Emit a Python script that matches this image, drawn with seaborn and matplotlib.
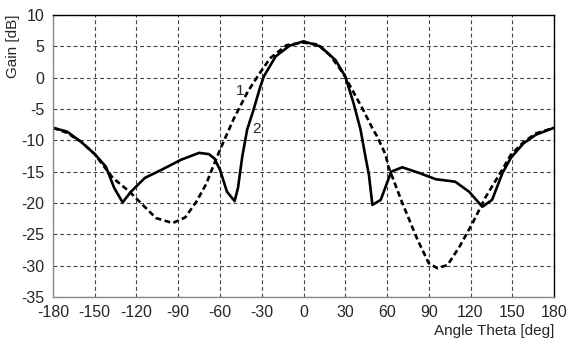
import numpy as np
import pandas as pd
import seaborn as sns
from matplotlib import pyplot as plt

# curve 1 (dashed)
theta1 = [-180, -170, -160, -150, -146, -137, -125, -106, -94, -85, -77, -70, -65, -60,
          -50, -40, -31.5, -24, -12, 0, 10, 19, 28.5, 43, 50, 53, 59, 61, 71, 82, 90,
          96, 103.5, 112, 121.5, 131, 142, 149, 158, 167, 180]
gain1 = [-8.0, -8.8, -10.2, -12.2, -13.4, -16.0, -18.2, -22.4, -23.2, -22.3, -19.8, -17.0,
         -14.2, -11.5, -6.5, -2.2, 0.7, 3.1, 5.2, 5.6, 5.3, 3.6, 0.7, -5.2, -8.3, -9.4,
         -12.3, -14.2, -20.0, -25.9, -29.6, -30.4, -29.9, -27.0, -23.2, -19.0, -15.0,
         -12.3, -10.3, -8.9, -8.0]

# curve 2 (solid)
theta2 = [-180, -170, -160, -150, -142, -136, -130, -124, -114, -102, -88, -75, -68, -64,
          -60, -55, -49.5, -47, -45.5, -44, -40.5, -36, -31, -28.5, -20, -10, 0, 12, 23,
          30, 36, 41, 44.5, 47, 49.5, 55.5, 63, 71, 83, 95, 109, 119, 128.5, 135.5, 143,
          149, 158, 167, 180]
gain2 = [-8.0, -8.6, -10.2, -12.2, -14.2, -17.6, -19.9, -18.2, -16.0, -14.7, -13.1, -12.0,
         -12.2, -12.9, -14.7, -18.2, -19.7, -17.5, -15.0, -12.6, -8.3, -5.2, -1.4, 0.2,
         3.4, 5.1, 5.8, 5.0, 2.8, 0.2, -4.1, -8.3, -12.6, -15.5, -20.3, -19.5, -15.0,
         -14.3, -15.2, -16.2, -16.6, -18.2, -20.6, -19.5, -15.2, -12.8, -10.5, -9.1, -8.0]

xticks = list(range(-180, 181, 30))
yticks = list(range(-35, 11, 5))

df1 = pd.DataFrame({'theta': theta1, 'gain': gain1})
df2 = pd.DataFrame({'theta': theta2, 'gain': gain2})

sns.set_style('white')
plt.rcParams['font.family'] = ['Liberation Sans', 'DejaVu Sans']
plt.rcParams['axes.unicode_minus'] = False

fig, ax = plt.subplots(figsize=(5.72, 3.47), dpi=100)
fig.subplots_adjust(left=53/572, right=554/572, top=1-15/347, bottom=1-297/347)

ax.grid(True, color='#444444', linestyle=(0, (3.5, 2.5)), linewidth=0.8)
ax.set_axisbelow(True)

sns.lineplot(data=df1, x='theta', y='gain', ax=ax, color='black', sort=False,
             linewidth=1.9, linestyle=(0, (2.2, 1.3)))
sns.lineplot(data=df2, x='theta', y='gain', ax=ax, color='black', sort=False,
             linewidth=1.9)

ax.set_xlim(-180, 180)
ax.set_ylim(-35, 10)
ax.set_xticks(xticks)
ax.set_yticks(yticks)
ax.tick_params(axis='both', length=0, labelsize=11.5, pad=6)

for s in ['left', 'bottom']:
    ax.spines[s].set_color('#888888')
for s in ['top', 'right']:
    ax.spines[s].set_color('black')
for s in ax.spines.values():
    s.set_linewidth(1.0)

ax.set_xlabel('Angle Theta [deg]', fontsize=11, loc='right', labelpad=3)
ax.set_ylabel('Gain [dB]', fontsize=11, loc='top', labelpad=1)

ax.text(-45.6, -2.1, '1', fontsize=11, ha='center', va='center')
ax.text(-33.5, -8.2, '2', fontsize=11, ha='center', va='center')

plt.savefig('out.png', dpi=100)
